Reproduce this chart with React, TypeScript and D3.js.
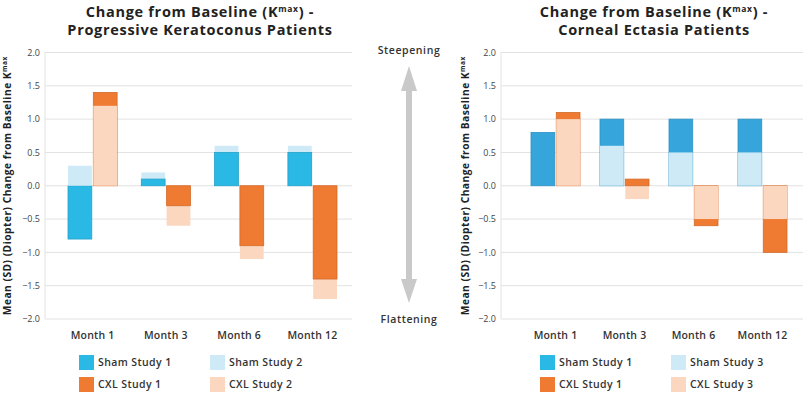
import * as d3 from 'd3';
import React, { useEffect, useRef } from 'react';

const months = ['Month 1', 'Month 3', 'Month 6', 'Month 12'];
const yTicks = [2.0, 1.5, 1.0, 0.5, 0.0, -0.5, -1.0, -1.5, -2.0];

// Progressive keratoconus
const kcShamStudy1 = [-0.8, 0.1, 0.5, 0.5];
const kcShamStudy2 = [0.3, 0.2, 0.6, 0.6];
const kcCxlStudy1 = [1.4, -0.3, -0.9, -1.4];
const kcCxlStudy2 = [1.2, -0.6, -1.1, -1.7];

// Corneal ectasia
const ceShamStudy1 = [0.8, 1.0, 1.0, 1.0];
const ceShamStudy3 = [0.0, 0.6, 0.5, 0.5];
const ceCxlStudy1 = [1.1, 0.1, -0.6, -1.0];
const ceCxlStudy3 = [1.0, -0.2, -0.5, -0.5];

const BLUE = '#2ab8e4';
const BLUE_R = '#35a5dc';
const ORANGE = '#ef7a31';
const LIGHT_BLUE = '#cdeaf6';
const LIGHT_ORANGE = '#fbd7c0';
const FONT = '"Open Sans", Lato, sans-serif';

type Panel = {
  title2: string;
  titleX: number;
  plotLeft: number;
  plotRight: number;
  band: [number, number];
  pad: number;
  tickX: number;
  axisTitleX: number;
  legendX: [number, number];
  blue: string;
  sham1: number[];
  sham2: number[];
  cxl1: number[];
  cxl2: number[];
  legend: string[];
};

const panels: Panel[] = [
  {
    title2: 'Progressive Keratoconus Patients',
    titleX: 200,
    plotLeft: 45,
    plotRight: 352,
    band: [68, 337],
    pad: 0.33,
    tickX: 40,
    axisTitleX: 11,
    legendX: [79, 210],
    blue: BLUE,
    sham1: kcShamStudy1,
    sham2: kcShamStudy2,
    cxl1: kcCxlStudy1,
    cxl2: kcCxlStudy2,
    legend: ['Sham Study 1', 'Sham Study 2', 'CXL Study 1', 'CXL Study 2'],
  },
  {
    title2: 'Corneal Ectasia Patients',
    titleX: 654,
    plotLeft: 501,
    plotRight: 803,
    band: [531, 787],
    pad: 0.29,
    tickX: 496,
    axisTitleX: 469,
    legendX: [540, 671],
    blue: BLUE_R,
    sham1: ceShamStudy1,
    sham2: ceShamStudy3,
    cxl1: ceCxlStudy1,
    cxl2: ceCxlStudy3,
    legend: ['Sham Study 1', 'Sham Study 3', 'CXL Study 1', 'CXL Study 3'],
  },
];

function drawPanel(svg: any, p: Panel) {
  const y = d3.scaleLinear().domain([-2, 2]).range([319, 52.5]);
  const x = d3.scaleBand().domain(months).range(p.band).paddingInner(p.pad).paddingOuter(0);
  const sub = d3.scaleBand().domain(['sham', 'cxl']).range([0, x.bandwidth()]).paddingInner(0.06);

  const g = svg.append('g');

  // title
  const t1 = g
    .append('text')
    .attr('x', p.titleX)
    .attr('y', 17)
    .attr('text-anchor', 'middle')
    .attr('font-family', FONT)
    .attr('font-weight', 700)
    .attr('font-size', 14.5)
    .attr('letter-spacing', 0.7)
    .attr('fill', '#222');
  t1.append('tspan').text('Change from Baseline (K');
  t1.append('tspan').attr('font-size', 8.5).attr('dy', -5).text('max');
  t1.append('tspan').attr('dy', 5).text(') -');
  g.append('text')
    .attr('x', p.titleX)
    .attr('y', 35)
    .attr('text-anchor', 'middle')
    .attr('font-family', FONT)
    .attr('font-weight', 700)
    .attr('font-size', 14.5)
    .attr('letter-spacing', 0.7)
    .attr('fill', '#222')
    .text(p.title2);

  // grid
  g.selectAll('.grid')
    .data(yTicks)
    .enter()
    .append('line')
    .attr('x1', p.plotLeft)
    .attr('x2', p.plotRight)
    .attr('y1', (d: number) => y(d))
    .attr('y2', (d: number) => y(d))
    .attr('stroke', '#e2e2e2')
    .attr('stroke-width', 1);
  g.append('line')
    .attr('x1', p.plotLeft)
    .attr('x2', p.plotLeft)
    .attr('y1', y(2))
    .attr('y2', y(-2))
    .attr('stroke', '#e2e2e2');

  g.selectAll('.tick')
    .data(yTicks)
    .enter()
    .append('text')
    .attr('x', p.tickX)
    .attr('y', (d: number) => y(d))
    .attr('dy', '0.35em')
    .attr('text-anchor', 'end')
    .attr('font-family', FONT)
    .attr('font-size', 9)
    .attr('fill', '#444')
    .text((d: number) => d3.format('.1f')(d));

  // y axis title
  const yt = g
    .append('text')
    .attr('transform', `translate(${p.axisTitleX},${(y(2) + y(-2)) / 2}) rotate(-90)`)
    .attr('text-anchor', 'middle')
    .attr('font-family', FONT)
    .attr('font-weight', 700)
    .attr('font-size', 10.2)
    .attr('letter-spacing', 0.5)
    .attr('fill', '#222');
  yt.append('tspan').text('Mean (SD) (Diopter) Change from Baseline K');
  yt.append('tspan').attr('font-size', 6.5).attr('dy', -4).text('max');

  // bars: larger magnitude behind, smaller in front
  const groups = [
    { key: 'sham', vals: [p.sham1, p.sham2], colors: [p.blue, LIGHT_BLUE] },
    { key: 'cxl', vals: [p.cxl1, p.cxl2], colors: [ORANGE, LIGHT_ORANGE] },
  ];
  months.forEach((m, i) => {
    groups.forEach((grp) => {
      const items = grp.vals
        .map((v, k) => ({ v: v[i], c: grp.colors[k], dark: k === 0 }))
        .sort((a, b) => Math.abs(b.v) - Math.abs(a.v));
      items.forEach((it) => {
        if (it.v === 0) return;
        const x0 = (x(m) as number) + (sub(grp.key) as number);
        g.append('rect')
          .attr('x', x0)
          .attr('width', sub.bandwidth())
          .attr('y', y(Math.max(0, it.v)))
          .attr('height', Math.abs(y(it.v) - y(0)))
          .attr('fill', it.c)
          .attr('stroke', it.dark ? d3.color(it.c)!.darker(0.35).toString() : 'none')
          .attr('stroke-width', it.dark ? 0.8 : 0);
      });
    });
  });

  // month labels
  g.selectAll('.month')
    .data(months)
    .enter()
    .append('text')
    .attr('x', (d: string) => (x(d) as number) + x.bandwidth() / 2)
    .attr('y', 339)
    .attr('text-anchor', 'middle')
    .attr('font-family', FONT)
    .attr('font-weight', 600)
    .attr('font-size', 10.5)
    .attr('letter-spacing', 0.2)
    .attr('fill', '#333')
    .text((d: string) => d);

  // legend
  const legColors = [BLUE, LIGHT_BLUE, ORANGE, LIGHT_ORANGE];
  p.legend.forEach((name, k) => {
    const lx = p.legendX[k % 2];
    const ly = k < 2 ? 355 : 377;
    g.append('rect').attr('x', lx).attr('y', ly).attr('width', 15).attr('height', 15).attr('fill', legColors[k]);
    g.append('text')
      .attr('x', lx + 19)
      .attr('y', ly + 7.5)
      .attr('dy', '0.35em')
      .attr('font-family', FONT)
      .attr('font-weight', 600)
      .attr('font-size', 10.5)
      .attr('letter-spacing', 0.4)
      .attr('fill', '#333')
      .text(name);
  });
}

export default function App() {
  const ref = useRef<SVGSVGElement>(null);

  useEffect(() => {
    document.body.style.margin = '0';
    const svg = d3.select(ref.current);
    svg.selectAll('*').remove();
    svg.append('rect').attr('width', 812).attr('height', 399).attr('fill', '#fff');
    panels.forEach((p) => drawPanel(svg, p));

    // middle arrow
    const ax = 409;
    const arrow = d3.path();
    arrow.moveTo(ax, 66);
    arrow.lineTo(ax + 8, 91);
    arrow.lineTo(ax + 3, 91);
    arrow.lineTo(ax + 3, 279);
    arrow.lineTo(ax + 8, 279);
    arrow.lineTo(ax, 303);
    arrow.lineTo(ax - 8, 279);
    arrow.lineTo(ax - 3, 279);
    arrow.lineTo(ax - 3, 91);
    arrow.lineTo(ax - 8, 91);
    arrow.closePath();
    svg.append('path').attr('d', arrow.toString()).attr('fill', '#c9c9c9');
    [
      { label: 'Steepening', yy: 54 },
      { label: 'Flattening', yy: 323 },
    ].forEach((d) => {
      svg
        .append('text')
        .attr('x', ax)
        .attr('y', d.yy)
        .attr('text-anchor', 'middle')
        .attr('font-family', FONT)
        .attr('font-weight', 600)
        .attr('font-size', 10.5)
        .attr('letter-spacing', 0.6)
        .attr('fill', '#333')
        .text(d.label);
    });
  }, []);

  return <svg ref={ref} width={812} height={399} style={{ display: 'block' }} />;
}
